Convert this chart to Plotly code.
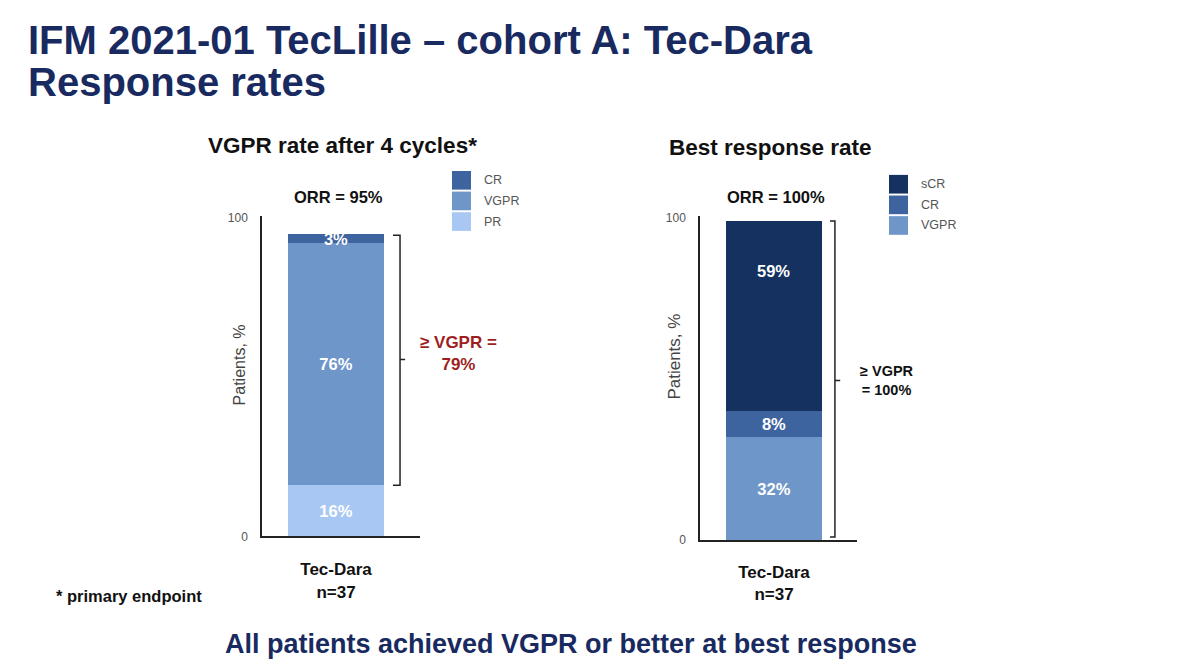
import plotly.graph_objects as go

# ---- data ----
left_categories = ["Tec-Dara<br>n=37"]
left_series = ["PR", "VGPR", "CR"]
left_values = [16, 76, 3]
left_colors = ["#a8c8f3", "#6f96c9", "#3e64a0"]

right_categories = ["Tec-Dara<br>n=37"]
right_series = ["VGPR", "CR", "sCR"]
right_values = [32, 8, 59]
right_colors = ["#6f96c9", "#3e64a0", "#14315f"]

y_ticks = [0, 100]

W, H = 1200, 670
def px(x): return x / W
def py(y): return 1 - y / H

fig = go.Figure()

label_font = dict(color="white", size=16.5, family="Liberation Sans")

for name, val, col in zip(left_series, left_values, left_colors):
    fig.add_trace(go.Bar(
        x=[0], y=[val], name=name, marker=dict(color=col, line=dict(width=0)),
        width=1, text=[f"{val}%"], textposition="inside", insidetextanchor="middle",
        textangle=0, textfont=label_font,
        texttemplate="<b>%{text}</b>", hoverinfo="skip", showlegend=False,
        xaxis="x", yaxis="y"))

for name, val, col in zip(right_series, right_values, right_colors):
    top_seg = name == "sCR"
    fig.add_trace(go.Bar(
        x=[0], y=[val], name=name, marker=dict(color=col, line=dict(width=0)),
        width=1, text=[f"{val}%"], textposition="none" if top_seg else "inside",
        insidetextanchor="middle",
        textangle=0, textfont=label_font,
        texttemplate="<b>%{text}</b>", hoverinfo="skip", showlegend=False,
        xaxis="x2", yaxis="y2"))

axis_common = dict(showline=True, linecolor="#222", linewidth=1.5, showgrid=False,
                   zeroline=False, ticks="", fixedrange=True)

def tick_text(cat):
    return "<b>" + cat.replace("<br>", "</b><br><b>") + "</b>"

fig.update_layout(
    width=W, height=H, margin=dict(l=0, r=0, t=0, b=0),
    paper_bgcolor="white", plot_bgcolor="rgba(0,0,0,0)",
    barmode="stack", bargap=0, showlegend=False,
    font=dict(family="Liberation Sans, Arial", color="#222"),
    uniformtext=dict(minsize=16.5, mode="show"),
    xaxis=dict(domain=[px(262), px(420)], range=[-0.771, 0.875], anchor="y",
               tickvals=[0], ticktext=[tick_text(left_categories[0])],
               tickfont=dict(size=17, color="#111"), ticklabelstandoff=17, **axis_common),
    yaxis=dict(domain=[py(541), py(215)], range=[0, 100.5], anchor="x",
               tickvals=y_ticks, tickfont=dict(size=12, color="#555"),
               ticklabelstandoff=10, **axis_common),
    xaxis2=dict(domain=[px(700), px(857)], range=[-0.771, 0.865], anchor="y2",
                tickvals=[0], ticktext=[tick_text(right_categories[0])],
                tickfont=dict(size=17, color="#111"), ticklabelstandoff=16, **axis_common),
    yaxis2=dict(domain=[py(545), py(215)], range=[0, 100.5], anchor="x2",
                tickvals=y_ticks, tickfont=dict(size=12, color="#555"),
                ticklabelstandoff=10, **axis_common),
)

# brackets derived from data
l_top = sum(left_values)
l_bot = left_values[0]
l_mid = (l_top + l_bot) / 2
r_top = sum(right_values)
r_bot = 0
r_mid = (r_top + r_bot) / 2
shapes = [
    dict(type="path", xref="x", yref="y",
         path=f"M 0.594,{l_top - 0.5} L 0.667,{l_top - 0.5} L 0.667,{l_bot} L 0.594,{l_bot} M 0.667,{l_mid} L 0.72,{l_mid}",
         line=dict(color="#222", width=1.5)),
    dict(type="path", xref="x2", yref="y2",
         path=f"M 0.583,{r_top} L 0.635,{r_top} L 0.635,{r_bot + 1} L 0.583,{r_bot + 1} M 0.635,{r_mid} L 0.69,{r_mid}",
         line=dict(color="#222", width=1.5)),
]

navy = "#182a60"
ann = [
    dict(x=px(26), y=py(36), text="<b>IFM 2021-01 TecLille – cohort A: Tec-Dara</b>",
         font=dict(size=40, color=navy), xanchor="left", yanchor="middle"),
    dict(x=px(26), y=py(78), text="<b>Response rates</b>",
         font=dict(size=40, color=navy), xanchor="left", yanchor="middle"),
    dict(x=px(206), y=py(143), text="<b>VGPR rate after 4 cycles*</b>",
         font=dict(size=22.5, color="#111"), xanchor="left", yanchor="middle"),
    dict(x=px(667), y=py(145), text="<b>Best response rate</b>",
         font=dict(size=22.5, color="#111"), xanchor="left", yanchor="middle"),
    dict(x=px(339), y=py(196), text=f"<b>ORR = {sum(left_values)}%</b>",
         font=dict(size=16.5, color="#111"), xanchor="center", yanchor="middle"),
    dict(x=px(776), y=py(195), text=f"<b>ORR = {min(100, sum(right_values) + 1)}%</b>",
         font=dict(size=16.5, color="#111"), xanchor="center", yanchor="middle"),
    dict(x=px(458), y=py(355), text=f"<b>≥ VGPR =<br>{left_values[1] + left_values[2]}%</b>",
         font=dict(size=17, color="#9e1f1f"), xanchor="center", yanchor="middle"),
    dict(x=px(887), y=py(382), text="<b>≥ VGPR<br>= 100%</b>",
         font=dict(size=14.5, color="#111"), xanchor="center", yanchor="middle"),
    dict(x=px(239), y=py(367), text="Patients, %", textangle=-90,
         font=dict(size=16, color="#444"), xanchor="center", yanchor="middle"),
    dict(x=px(675), y=py(358), text="Patients, %", textangle=-90,
         font=dict(size=17, color="#444"), xanchor="center", yanchor="middle"),
    dict(x=px(54), y=py(602), text="<b>* primary endpoint</b>",
         font=dict(size=16.5, color="#111"), xanchor="left", yanchor="middle"),
    dict(x=px(571), y=py(651), text="<b>All patients achieved VGPR or better at best response</b>",
         font=dict(size=27, color=navy), xanchor="center", yanchor="middle"),
]

# top-segment label for sCR, anchored to top of the stack
ann.append(dict(xref="x2", yref="y2", x=0, y=r_top, yshift=-50, showarrow=False,
                text=f"<b>{right_values[2]}%</b>", font=label_font,
                xanchor="center", yanchor="middle"))

# custom legends (listed top to bottom = reverse of stacking order)
def add_legend(names, colors, x0, y_tops, size):
    for name, col, yt in zip(reversed(names), reversed(colors), y_tops):
        shapes.append(dict(type="rect", xref="paper", yref="paper",
                           x0=px(x0), x1=px(x0 + size), y0=py(yt + size), y1=py(yt),
                           fillcolor=col, line=dict(width=0)))
        ann.append(dict(xref="paper", yref="paper", x=px(x0 + size + 11), y=py(yt + size / 2),
                        text=name, font=dict(size=12.5, color="#555"),
                        xanchor="left", yanchor="middle", showarrow=False))

add_legend(left_series, left_colors, 452, [169, 190, 211], 19)
add_legend(right_series, right_colors, 889, [173, 194, 215], 19)

for a in ann:
    a.setdefault("xref", "paper")
    a.setdefault("yref", "paper")
    a["showarrow"] = False
fig.update_layout(annotations=ann, shapes=shapes)

fig.write_html("out.html")
